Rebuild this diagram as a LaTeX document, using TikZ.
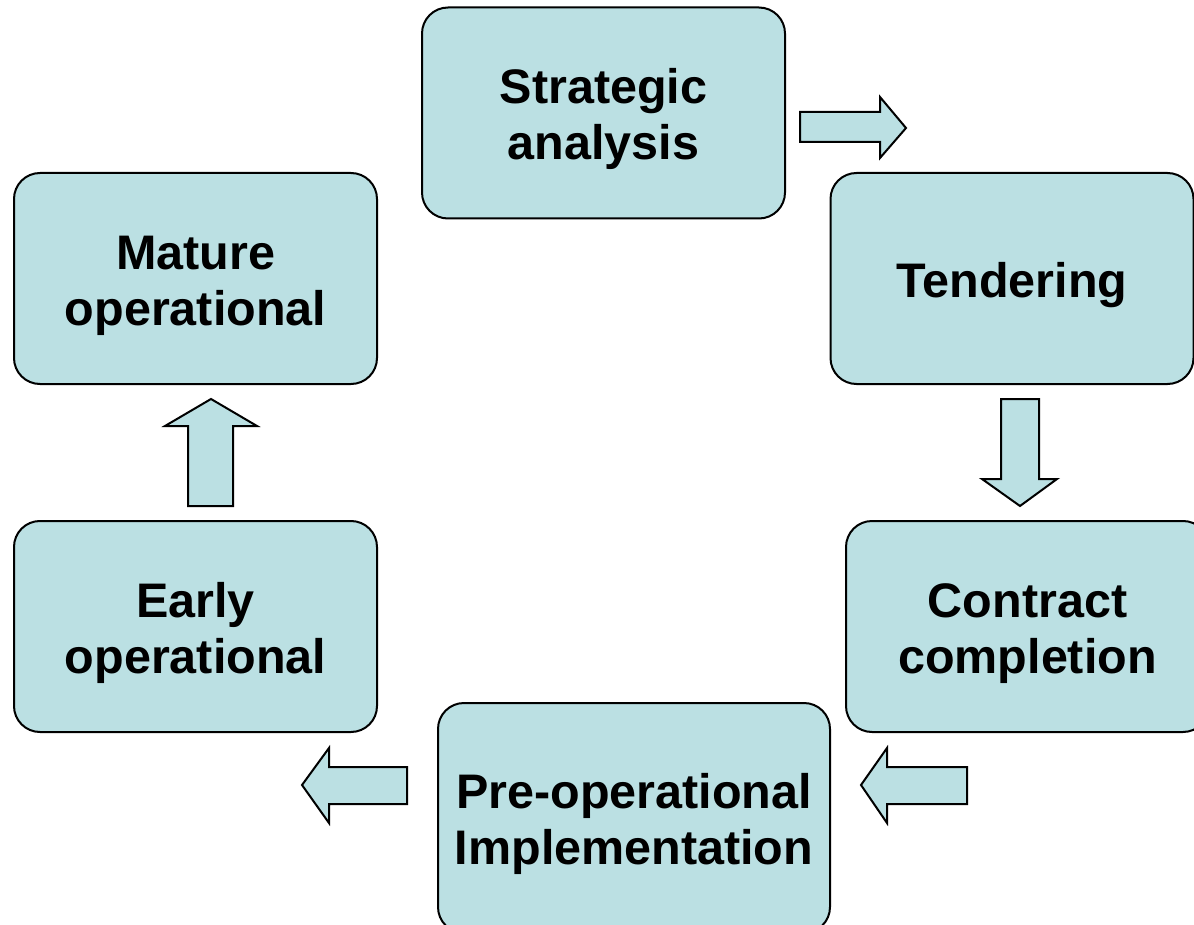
\documentclass[tikz,border=0pt]{standalone}
\usepackage{fontspec}
\setmainfont{Liberation Sans}
\definecolor{boxfill}{RGB}{187,224,227}
% extra room above the first text line of a stage box
\newcommand{\topgap}{\rule{0pt}{48pt}}
\begin{document}
\begin{tikzpicture}[x=1pt,y=-1pt,
  stage/.style={draw=black,line width=2pt,fill=boxfill,rounded corners=26pt,
    minimum width=363pt,minimum height=211pt,align=center,inner sep=0pt,
    font=\fontsize{48.5}{56}\selectfont\bfseries},
  blockarrow/.style={draw=black,line width=2pt,fill=boxfill,line join=miter}]
\useasboundingbox (0,0) rectangle (1194,925);
\clip (0,0) rectangle (1194,925);

% process stages
\node[stage] (strat) at (603.5,113) {\topgap Strategic\\analysis};
\node[stage] (tend) at (1012,278.5) {\topgap Tendering};
\node[stage] (contr) at (1027.5,626.5) {\topgap Contract\\completion};
\node[stage,minimum width=392pt,minimum height=230pt] (preop) at (634,818) {\topgap Pre-operational\\Implementation};
\node[stage] (early) at (195.5,626.5) {\topgap Early\\operational};
\node[stage] (mature) at (195.5,278.5) {\topgap Mature\\operational};

% block arrows between stages
\draw[blockarrow] (800,112) -- (880,112) -- (880,97) -- (906,128) -- (880,158) -- (880,142) -- (800,142) -- cycle;
\draw[blockarrow] (1001,399) -- (1039,399) -- (1039,479) -- (1057,479) -- (1020,506) -- (982,479) -- (1001,479) -- cycle;
\draw[blockarrow] (967,767) -- (887,767) -- (887,748) -- (861,785) -- (887,823) -- (887,804) -- (967,804) -- cycle;
\draw[blockarrow] (407,767) -- (329,767) -- (329,748) -- (302,785) -- (329,823) -- (329,804) -- (407,804) -- cycle;
\draw[blockarrow] (188,506) -- (188,426) -- (165,426) -- (211,399) -- (257,426) -- (233,426) -- (233,506) -- cycle;
\end{tikzpicture}
\end{document}
